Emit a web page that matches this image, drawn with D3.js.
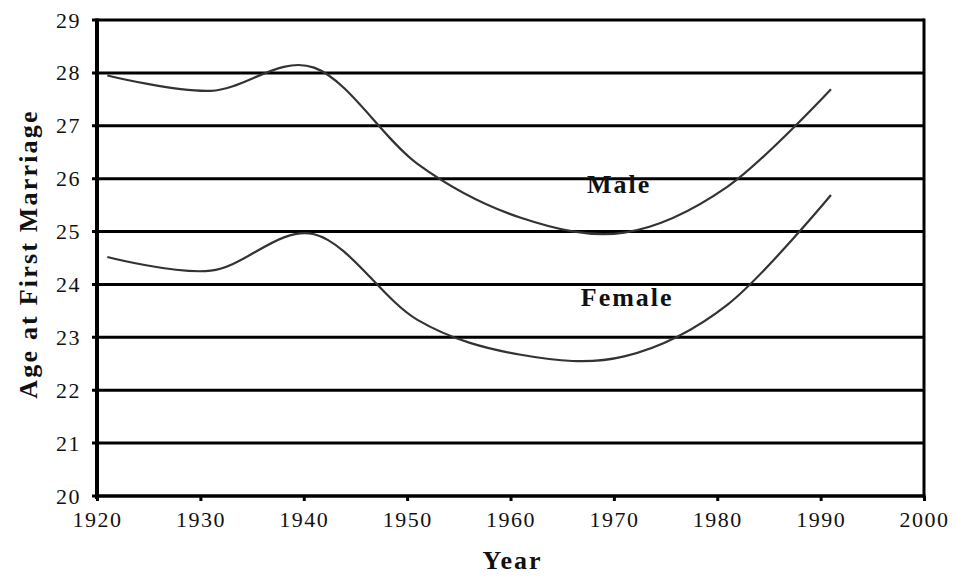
<!DOCTYPE html>
<html>
<head>
<meta charset="utf-8">
<script src="https://cdn.jsdelivr.net/npm/d3@7/dist/d3.min.js"></script>
<style>
  html, body { margin: 0; padding: 0; background: #fff; }
  svg { display: block; }
  text { font-family: "Liberation Serif", "Times New Roman", serif; fill: #111; }
</style>
</head>
<body>
<svg id="chart" width="956" height="577"></svg>
<script>
// ---- data ----
const years = [1921, 1931, 1941, 1951, 1961, 1971, 1981, 1991];
const maleAge = [27.95, 27.66, 28.1, 26.28, 25.26, 24.98, 25.85, 27.69];
const femaleAge = [24.52, 24.26, 24.95, 23.33, 22.67, 22.64, 23.62, 25.69];
const xTicks = [1920, 1930, 1940, 1950, 1960, 1970, 1980, 1990, 2000];
const yTicks = [20, 21, 22, 23, 24, 25, 26, 27, 28, 29];
const seriesLabels = [
  { name: "Male", year: 1967.4, value: 25.72 },
  { name: "Female", year: 1966.8, value: 23.6 }
];
const xTitle = "Year";
const yTitle = "Age at First Marriage";

// ---- layout ----
const svg = d3.select("#chart");
const mLeft = 97, mRight = 924, mTop = 20, mBottom = 496;
const x = d3.scaleLinear().domain([1920, 2000]).range([mLeft, mRight]);
const y = d3.scaleLinear().domain([20, 29]).range([mBottom, mTop]);

// gridlines
svg.append("g").selectAll("line").data(yTicks).join("line")
  .attr("x1", mLeft - 5).attr("x2", mRight)
  .attr("y1", d => y(d)).attr("y2", d => y(d))
  .attr("stroke", "#000").attr("stroke-width", 3);

// right border
svg.append("line").attr("x1", mRight).attr("x2", mRight)
  .attr("y1", mTop - 1.5).attr("y2", mBottom + 1.5)
  .attr("stroke", "#000").attr("stroke-width", 3);

// y axis
const yAxis = d3.axisLeft(y).tickValues(yTicks).tickSize(0).tickPadding(16).tickFormat(d3.format("d"));
const gy = svg.append("g").attr("transform", `translate(${mLeft},0)`).call(yAxis);
gy.select(".domain").remove();
gy.selectAll("text").attr("font-size", 22).attr("letter-spacing", 1.5)
  .attr("font-family", "Liberation Serif").attr("fill", "#222");
svg.append("line").attr("x1", mLeft).attr("x2", mLeft)
  .attr("y1", mTop - 1.5).attr("y2", mBottom + 3)
  .attr("stroke", "#000").attr("stroke-width", 4);

// x axis
const xAxis = d3.axisBottom(x).tickValues(xTicks).tickSize(5).tickPadding(10).tickFormat(d3.format("d"));
const gx = svg.append("g").attr("transform", `translate(0,${mBottom})`).call(xAxis);
gx.select(".domain").remove();
gx.selectAll(".tick line").attr("stroke", "#000").attr("stroke-width", 3);
gx.selectAll("text").attr("font-size", 22).attr("letter-spacing", 1.5)
  .attr("font-family", "Liberation Serif").attr("fill", "#222");
svg.append("line").attr("x1", mLeft).attr("x2", mRight + 1.5)
  .attr("y1", mBottom).attr("y2", mBottom)
  .attr("stroke", "#000").attr("stroke-width", 3);

// lines
const line = d3.line().x(d => x(d[0])).y(d => y(d[1])).curve(d3.curveCatmullRom.alpha(0));
[maleAge, femaleAge].forEach(vals => {
  svg.append("path")
    .datum(years.map((yr, i) => [yr, vals[i]]))
    .attr("fill", "none").attr("stroke", "#333").attr("stroke-width", 2.2)
    .attr("d", line);
});

// series labels
svg.append("g").selectAll("text").data(seriesLabels).join("text")
  .attr("x", d => x(d.year)).attr("y", d => y(d.value))
  .attr("font-size", 26).attr("font-weight", "bold").attr("letter-spacing", 2)
  .attr("fill", "#222")
  .text(d => d.name);

// axis titles
svg.append("text").attr("x", (mLeft + mRight) / 2 + 2).attr("y", 569)
  .attr("text-anchor", "middle").attr("font-size", 26).attr("font-weight", "bold")
  .attr("letter-spacing", 2).attr("fill", "#222").text(xTitle);
svg.append("text").attr("transform", "translate(37,254) rotate(-90)")
  .attr("text-anchor", "middle").attr("font-size", 26).attr("font-weight", "bold")
  .attr("letter-spacing", 2.2).attr("fill", "#222").text(yTitle);
</script>
</body>
</html>
